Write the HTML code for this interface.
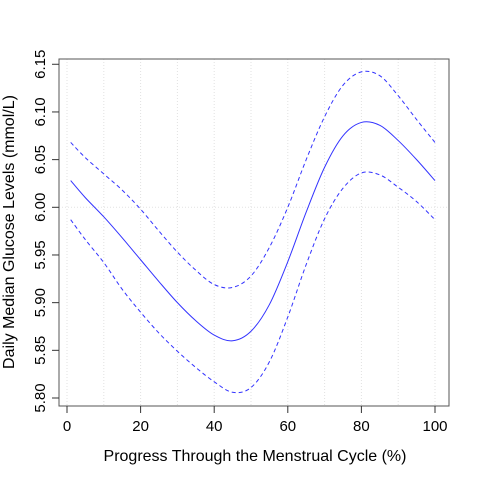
<!DOCTYPE html>
<html><head><meta charset="utf-8"><style>
html,body{margin:0;padding:0;background:#fff;}
svg text{font-family:"Liberation Sans",sans-serif;fill:#000;}
</style></head><body>
<svg id="chart" width="480" height="480">
<g id="grid"></g>
<g id="series"></g>
<rect x="59" y="59" width="390" height="347" fill="none" stroke="#555" stroke-width="1"/>
<g id="axes"></g>
<text x="255" y="461" font-size="16" text-anchor="middle">Progress Through the Menstrual Cycle (%)</text>
<text transform="translate(14,232) rotate(-90)" font-size="16" text-anchor="middle">Daily Median Glucose Levels (mmol/L)</text>
</svg>
<script>
const xs = [1,5,10,15,20,25,30,35,40,45,50,55,60,65,70,75,80,85,90,95,100];
const meanVals = [6.028,6.010,5.990,5.968,5.945,5.922,5.900,5.881,5.866,5.860,5.870,5.898,5.943,5.995,6.042,6.075,6.089,6.086,6.070,6.050,6.028];
const upperVals = [6.068,6.052,6.035,6.018,5.998,5.975,5.953,5.934,5.919,5.916,5.928,5.958,6.000,6.050,6.095,6.128,6.142,6.138,6.117,6.092,6.068];
const lowerVals = [5.987,5.966,5.942,5.914,5.890,5.868,5.849,5.832,5.817,5.806,5.811,5.838,5.885,5.940,5.988,6.020,6.036,6.034,6.021,6.006,5.987];
const xTicks = [0,20,40,60,80,100];
const yTicks = [5.80,5.85,5.90,5.95,6.00,6.05,6.10,6.15];
const xGrid = [0,10,20,30,40,50,60,70,80,90,100];

const sx = v => 67 + v*3.68;
const sy = v => 398 - (v-5.80)*953.5;
const NS = "http://www.w3.org/2000/svg";
function mk(tag, attrs, parent){const e=document.createElementNS(NS,tag);for(const k in attrs)e.setAttribute(k,attrs[k]);parent.appendChild(e);return e;}
const grid=document.getElementById('grid'), series=document.getElementById('series'), axes=document.getElementById('axes');

xGrid.forEach(v=>{
  const l=mk('line',{x1:sx(v),x2:sx(v),y1:59,y2:406,stroke:'#e2e2e2','stroke-dasharray':'1,2'},grid);
  
  
});
const hg=mk('line',{x1:59,x2:449,y1:sy(6.0),y2:sy(6.0),stroke:'#e2e2e2','stroke-dasharray':'1,2'},grid);



function pathFor(vals){
  const p=xs.map((x,i)=>[sx(x),sy(vals[i])]);
  let d=`M${p[0][0]},${p[0][1]}`;
  for(let i=0;i<p.length-1;i++){
    const p0=p[Math.max(0,i-1)],p1=p[i],p2=p[i+1],p3=p[Math.min(p.length-1,i+2)];
    const c1=[p1[0]+(p2[0]-p0[0])/6,p1[1]+(p2[1]-p0[1])/6];
    const c2=[p2[0]-(p3[0]-p1[0])/6,p2[1]-(p3[1]-p1[1])/6];
    d+=` C${c1[0]},${c1[1]} ${c2[0]},${c2[1]} ${p2[0]},${p2[1]}`;
  }
  return d;
}
const up=mk('path',{d:pathFor(upperVals),fill:'none',stroke:'#3333ff','stroke-dasharray':'4,3'},series);


const mn=mk('path',{d:pathFor(meanVals),fill:'none',stroke:'#3333ff'},series);


const lo=mk('path',{d:pathFor(lowerVals),fill:'none',stroke:'#3333ff','stroke-dasharray':'4,3'},series);



xTicks.forEach(v=>{
  const t=mk('line',{x1:sx(v),x2:sx(v),y1:406,y2:413,stroke:'#333'},axes);
  
  
  const tx=mk('text',{x:sx(v),y:431,'font-size':'15','text-anchor':'middle'},axes);
  tx.textContent=v;
  
  
});
yTicks.forEach(v=>{
  const t=mk('line',{x1:52,x2:59,y1:sy(v),y2:sy(v),stroke:'#333'},axes);
  
  
  const tx=mk('text',{transform:`translate(45,${sy(v)}) rotate(-90)`,'font-size':'15','text-anchor':'middle'},axes);
  tx.textContent=v.toFixed(2);
  
  
});
</script>
</body></html>
